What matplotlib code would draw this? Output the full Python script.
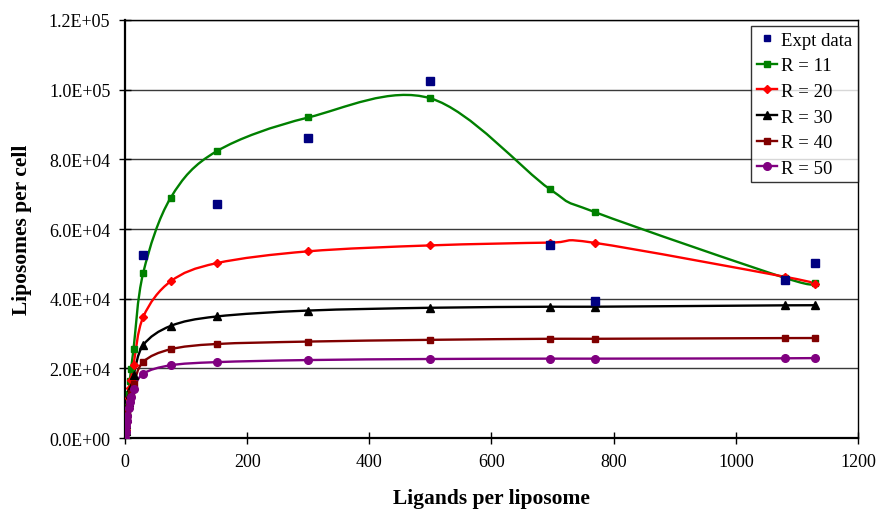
import numpy as np
import matplotlib.pyplot as plt
from matplotlib.path import Path
from matplotlib.patches import PathPatch
from matplotlib.lines import Line2D
from matplotlib.ticker import FuncFormatter

plt.rcParams['font.family'] = ['Liberation Serif', 'DejaVu Serif']

# experimental data
expt_x = [30, 150, 300, 500, 695, 770, 1080, 1130]
expt_y = [52500, 67300, 86000, 102600, 55500, 39300, 45500, 50200]

# model curves (ligands per liposome -> liposomes per cell)
model_x = [0, 1, 2, 3, 4, 6, 8, 10, 14, 30, 75, 150, 300, 500, 695, 770, 1080, 1130]
r11 = [0, 2300, 4500, 6700, 8800, 12800, 16500, 19800, 25500, 47500, 69000, 82300,
       92000, 97500, 71500, 64800, 46000, 44500]
r20 = [0, 2200, 4300, 6300, 8200, 11500, 14300, 16800, 21000, 34800, 45000, 50200,
       53600, 55300, 56100, 56000, 46300, 44200]
r30 = [0, 2100, 4000, 5800, 7500, 10300, 12700, 14800, 18000, 26700, 32200, 34900,
       36600, 37400, 37700, 37700, 38100, 38100]
r40 = [0, 1900, 3700, 5300, 6800, 9300, 11300, 13000, 15500, 21900, 25500, 27000,
       27700, 28200, 28500, 28500, 28700, 28700]
r50 = [0, 1800, 3400, 4900, 6300, 8500, 10300, 11800, 14000, 18500, 20900, 21800,
       22400, 22700, 22800, 22800, 22900, 23000]

series = [
    ("R = 11", r11, "#008000", "s", 5),
    ("R = 20", r20, "#FF0000", "D", 4),
    ("R = 30", r30, "#000000", "^", 6),
    ("R = 40", r40, "#800000", "s", 4.5),
    ("R = 50", r50, "#800080", "o", 5.5),
]


def smooth_path(x, y):
    # Excel-style smoothed line: cubic Bezier segments through the points
    pts = np.column_stack([x, y]).astype(float)
    n = len(pts)
    verts = [pts[0]]
    codes = [Path.MOVETO]
    for i in range(n - 1):
        p0 = pts[i - 1] if i > 0 else pts[i]
        p1 = pts[i]
        p2 = pts[i + 1]
        p3 = pts[i + 2] if i + 2 < n else pts[i + 1]
        c1 = p1 + (p2 - p0) / 6.0
        c2 = p2 - (p3 - p1) / 6.0
        verts += [c1, c2, p2]
        codes += [Path.CURVE4] * 3
    return Path(verts, codes)


fig = plt.figure(figsize=(8.8, 5.1), dpi=100)
ax = fig.add_axes([0.142, 0.139, 0.833, 0.820])

ax.set_xlim(0, 1200)
ax.set_ylim(0, 120000)
ax.set_xticks(np.arange(0, 1201, 200))
ax.set_yticks(np.arange(0, 120001, 20000))
ax.yaxis.set_major_formatter(FuncFormatter(lambda v, p: f"{v:.1E}"))
ax.yaxis.grid(True, color="#3a3a3a", lw=1.0)
ax.set_axisbelow(True)

handles = [Line2D([], [], ls="none", marker="s", color="#000080", ms=5,
                  label="Expt data")]
for name, vals, col, mk, ms in series:
    ax.add_patch(PathPatch(smooth_path(model_x, vals), facecolor="none",
                           edgecolor=col, lw=1.7, zorder=3))
    ax.plot(model_x, vals, ls="none", marker=mk, color=col, ms=ms, zorder=4)
    handles.append(Line2D([], [], color=col, lw=1.7, marker=mk, ms=ms, label=name))

ax.plot(expt_x, expt_y, ls="none", marker="s", color="#000080", ms=5.3, zorder=5)

for s in ax.spines.values():
    s.set_color("black")
    s.set_linewidth(1.0)
ax.spines["left"].set_linewidth(1.6)
ax.spines["bottom"].set_linewidth(1.6)

ax.tick_params(axis="both", labelsize=13, direction="inout", length=9, width=1.0)
ax.tick_params(axis="x", pad=6)
ax.tick_params(axis="y", pad=6)
ax.set_xlabel("Ligands per liposome", fontsize=15.5, fontweight="bold", labelpad=13)
ax.set_ylabel("Liposomes per cell", fontsize=15.5, fontweight="bold", labelpad=12)

leg = ax.legend(handles=handles, loc="upper right", bbox_to_anchor=(1.0, 0.985),
                borderaxespad=0, fontsize=13.5, frameon=True, fancybox=False,
                edgecolor="black", handlelength=1.1, handletextpad=0.2,
                labelspacing=0.45, borderpad=0.3)
leg.get_frame().set_linewidth(1.0)

fig.savefig("out.png")
